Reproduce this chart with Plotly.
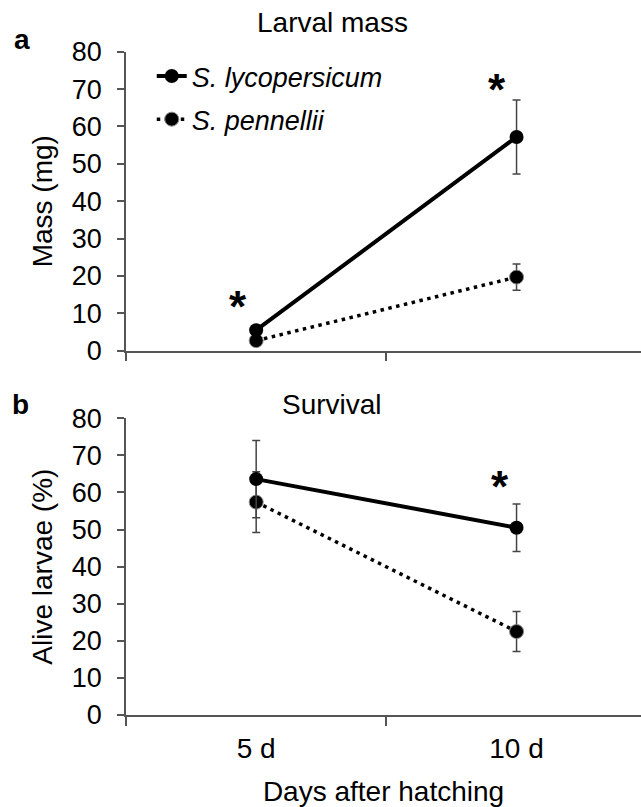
import plotly.graph_objects as go

days = ["5 d", "10 d"]
series_names = ["S. lycopersicum", "S. pennellii"]

mass_lyco = [5.5, 57.2]
mass_lyco_err = [0.8, 9.9]
mass_penn = [2.7, 19.7]
mass_penn_err = [0.5, 3.5]

surv_lyco = [63.6, 50.5]
surv_lyco_err = [10.4, 6.4]
surv_penn = [57.4, 22.5]
surv_penn_err = [8.2, 5.4]

yticks = [0, 10, 20, 30, 40, 50, 60, 70, 80]

# significance asterisks (x index, y value)
sig_mass = [(-0.07, 13.5), (0.925, 71.5)]
sig_surv = [(0.937, 63.3)]

xpos = list(range(len(days)))
FONT = "Liberation Sans, Arial, sans-serif"
ERRC = "#444444"

fig = go.Figure()

def add_pair(ylyco, elyco, ypenn, epenn, xa, ya, show):
    fig.add_trace(go.Scatter(
        x=xpos, y=ypenn, xaxis=xa, yaxis=ya, name=series_names[1],
        mode="lines+markers", showlegend=show, legendrank=2, legendgroup="p",
        line=dict(color="black", width=3.5, dash="3.5px,4.5px"),
        marker=dict(color="black", size=14, line=dict(color="#888888", width=1)),
        error_y=dict(type="data", array=epenn, color=ERRC, thickness=1.5, width=4),
    ))
    fig.add_trace(go.Scatter(
        x=xpos, y=ylyco, xaxis=xa, yaxis=ya, name=series_names[0],
        mode="lines+markers", showlegend=show, legendrank=1, legendgroup="l",
        line=dict(color="black", width=4),
        marker=dict(color="black", size=14),
        error_y=dict(type="data", array=elyco, color=ERRC, thickness=1.5, width=4),
    ))

add_pair(mass_lyco, mass_lyco_err, mass_penn, mass_penn_err, "x", "y", True)
add_pair(surv_lyco, surv_lyco_err, surv_penn, surv_penn_err, "x2", "y2", False)

xcommon = dict(
    range=[-0.5, 1.478], showline=True, linecolor="#555555", linewidth=1.5,
    showgrid=False, zeroline=False, tickmode="array", tickvals=xpos, automargin=False,
    ticks="", ticklabelstandoff=8, tickfont=dict(family=FONT, size=28, color="black"),
    minor=dict(tickmode="array", tickvals=[-0.5, 0.5, 1.5], ticks="outside",
               ticklen=9, tickwidth=1.5, tickcolor="#555555"),
)
ycommon = dict(
    range=[0, 80], showline=True, linecolor="#555555", linewidth=1.5,
    showgrid=False, zeroline=False, tickmode="array", tickvals=yticks, automargin=False,
    ticks="outside", ticklen=7, tickwidth=1.5, tickcolor="#555555", ticklabelstandoff=10,
    tickfont=dict(family=FONT, size=27, color="black"),
)

fig.update_layout(
    width=641, height=807,
    margin=dict(l=126, r=0, t=0, b=0, autoexpand=False),
    paper_bgcolor="white", plot_bgcolor="white",
    xaxis=dict(**xcommon, anchor="y", ticktext=["", ""]),
    yaxis=dict(**ycommon, domain=[0.5654, 0.9359], anchor="x",
               title=dict(text="Mass (mg)", font=dict(family=FONT, size=28, color="black"), standoff=11)),
    xaxis2=dict(**xcommon, anchor="y2", ticktext=days,
                title=dict(text="Days after hatching", font=dict(family=FONT, size=28, color="black"), standoff=20)),
    yaxis2=dict(**ycommon, domain=[0.1140, 0.4817], anchor="x2",
                title=dict(text="Alive larvae (%)", font=dict(family=FONT, size=28, color="black"), standoff=11)),
    legend=dict(x=0.05, y=1 - 52 / 807, xanchor="left", yanchor="top",
                font=dict(family=FONT, size=27, color="black", style="italic"),
                bgcolor="rgba(0,0,0,0)", traceorder="grouped", tracegroupgap=5),
)

ann = []
def text_ann(text, xpx, ypx, size=28):
    ann.append(dict(text=text, x=(xpx - 126) / 515, y=1 - ypx / 807, xref="paper", yref="paper",
                    xanchor="center", yanchor="middle", showarrow=False,
                    font=dict(family=FONT, size=size, color="black")))

text_ann("Larval mass", 332, 22)
text_ann("Survival", 332, 404)
text_ann("<b>a</b>", 22, 39)
text_ann("<b>b</b>", 20, 404)
for sx, sy in sig_mass:
    ann.append(dict(text="<b>*</b>", x=sx, y=sy, xref="x", yref="y", showarrow=False,
                    xanchor="center", yanchor="middle",
                    yshift=-6, font=dict(family=FONT, size=44, color="black")))
for sx, sy in sig_surv:
    ann.append(dict(text="<b>*</b>", x=sx, y=sy, xref="x2", yref="y2", showarrow=False,
                    xanchor="center", yanchor="middle",
                    yshift=-6, font=dict(family=FONT, size=44, color="black")))
fig.update_layout(annotations=ann)

fig.write_html("out.html", config={"displayModeBar": False},
               post_script="document.body.style.margin='0px';")
